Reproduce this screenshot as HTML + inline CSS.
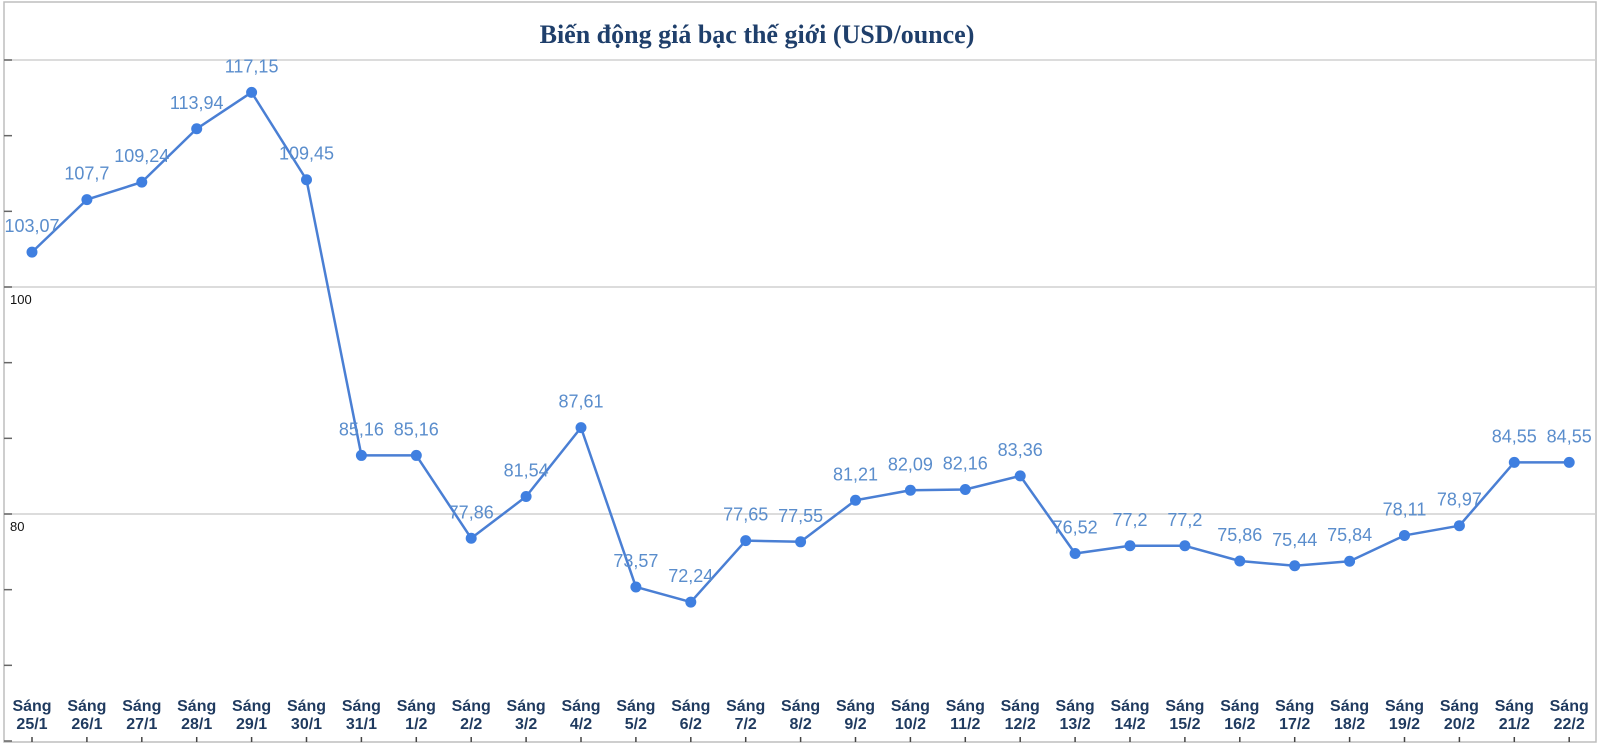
<!DOCTYPE html>
<html><head><meta charset="utf-8"><style>
html,body{margin:0;padding:0;background:#fff}
svg{display:block}
</style></head><body>
<svg id="chart" width="1600" height="745" viewBox="0 0 1600 745" xmlns="http://www.w3.org/2000/svg">
<rect x="4" y="2" width="1592" height="740" fill="#fff" stroke="#bdbdbd" stroke-width="1.5"/>
<text x="757" y="43" text-anchor="middle" font-family="Liberation Serif, serif" font-weight="bold" font-size="26" fill="#1f3f6b">Biến động giá bạc thế giới (USD/ounce)</text>
<g id="grid"></g><g id="yticks"></g><g id="xlabels"></g><g id="series"></g><g id="vlabels"></g>
</svg>
<script>
const categories=["25/1","26/1","27/1","28/1","29/1","30/1","31/1","1/2","2/2","3/2","4/2","5/2","6/2","7/2","8/2","9/2","10/2","11/2","12/2","13/2","14/2","15/2","16/2","17/2","18/2","19/2","20/2","21/2","22/2"];
const values=[103.07,107.7,109.24,113.94,117.15,109.45,85.16,85.16,77.86,81.54,87.61,73.57,72.24,77.65,77.55,81.21,82.09,82.16,83.36,76.52,77.2,77.2,75.86,75.44,75.84,78.11,78.97,84.55,84.55];
const valueLabels=["103,07","107,7","109,24","113,94","117,15","109,45","85,16","85,16","77,86","81,54","87,61","73,57","72,24","77,65","77,55","81,21","82,09","82,16","83,36","76,52","77,2","77,2","75,86","75,44","75,84","78,11","78,97","84,55","84,55"];
const gridValues=[120,100,80];
const yTickLabels=["","100","80"];
const NS="http://www.w3.org/2000/svg";
const x=i=>32+i*54.9;
const y=v=>287-(v-100)*11.35;
function mk(tag,attrs,parent,text){const e=document.createElementNS(NS,tag);for(const k in attrs)e.setAttribute(k,attrs[k]);if(text!==undefined)e.textContent=text;document.getElementById(parent).appendChild(e);return e;}
gridValues.forEach((g,i)=>{
 const l=mk('line',{x1:4,x2:1596,y1:y(g),y2:y(g),stroke:'#d0d0d0','stroke-width':1.5},'grid');
 
 
 if(yTickLabels[i]){const t=mk('text',{x:10,y:y(g)+17,'font-family':'Liberation Sans, sans-serif','font-size':13,fill:'#111'},'grid',yTickLabels[i]);
 
 }
});
for(let v=60;v<=120.01;v+=20/3){
 const t=mk('line',{x1:4,x2:12,y1:y(v),y2:y(v),stroke:'#666','stroke-width':1.5},'yticks');
 
 
}
categories.forEach((c,i)=>{
 const t=mk('text',{x:x(i),y:711,'text-anchor':'middle','font-family':'Liberation Sans, sans-serif','font-weight':'bold','font-size':16,fill:'#1f3a5f'},'xlabels');
 
 
 const a=document.createElementNS(NS,'tspan');a.setAttribute('x',x(i));a.textContent='Sáng';t.appendChild(a);
 const b=document.createElementNS(NS,'tspan');b.setAttribute('x',x(i));b.setAttribute('dy','18');b.textContent=c;t.appendChild(b);
 const k=mk('line',{x1:x(i),x2:x(i),y1:737,y2:742,stroke:'#444','stroke-width':1.5},'xlabels');
 
 
});
const p=mk('polyline',{points:values.map((v,i)=>x(i)+','+y(v)).join(' '),fill:'none',stroke:'#4a7fd4','stroke-width':2.5,'stroke-linejoin':'round'},'series');


values.forEach((v,i)=>{
 const c=mk('circle',{cx:x(i),cy:y(v),r:5.5,fill:'#3f7fe0'},'series');
 
 
 const t=mk('text',{x:x(i),y:y(v)-20,'text-anchor':'middle','font-family':'Liberation Sans, sans-serif','font-size':18,fill:'#5a8dcc'},'vlabels',valueLabels[i]);
 
 
});
</script>
</body></html>
